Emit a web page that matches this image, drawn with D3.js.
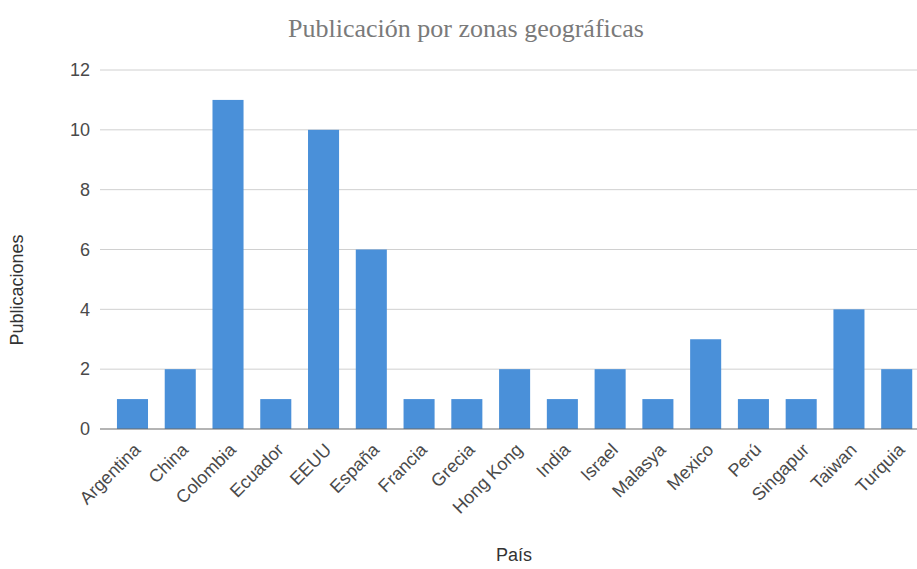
<!DOCTYPE html>
<html>
<head>
<meta charset="utf-8">
<script src="https://cdn.jsdelivr.net/npm/d3@7"></script>
<style>
  body { margin: 0; background: #fff; }
  svg { display: block; }
</style>
</head>
<body>
<div id="chart"></div>
<script>
const paises = ["Argentina", "China", "Colombia", "Ecuador", "EEUU", "España", "Francia", "Grecia",
  "Hong Kong", "India", "Israel", "Malasya", "Mexico", "Perú", "Singapur", "Taiwan", "Turquia"];
const publicaciones = [1, 2, 11, 1, 10, 6, 1, 1, 2, 1, 2, 1, 3, 1, 1, 4, 2];
const yTicks = [0, 2, 4, 6, 8, 10, 12];

const width = 917, height = 569;
const data = paises.map((p, i) => ({pais: p, valor: publicaciones[i]}));

const svg = d3.select("#chart").append("svg")
  .attr("width", width).attr("height", height);

const x = d3.scaleBand()
  .domain(paises)
  .range([108.6, 920.6])
  .paddingInner(0.35)
  .paddingOuter(0.175);

const y = d3.scaleLinear()
  .domain([0, 12])
  .range([429, 70]);

// grid
svg.append("g")
  .selectAll("line")
  .data(yTicks.filter(d => d > 0))
  .join("line")
    .attr("x1", 100).attr("x2", width)
    .attr("y1", d => y(d)).attr("y2", d => y(d))
    .attr("stroke", "#d0d0d0").attr("stroke-width", 1);

// y labels
svg.append("g")
  .selectAll("text")
  .data(yTicks)
  .join("text")
    .attr("x", 90)
    .attr("y", d => y(d))
    .attr("dy", "0.35em")
    .attr("text-anchor", "end")
    .attr("font-family", "Liberation Sans, Arial, sans-serif")
    .attr("font-size", 18)
    .attr("fill", "#4a4a4a")
    .text(d => d);

// bars
svg.append("g")
    .attr("fill", "#4a90d9")
  .selectAll("rect")
  .data(data)
  .join("rect")
    .attr("x", d => x(d.pais))
    .attr("width", x.bandwidth())
    .attr("y", d => y(d.valor))
    .attr("height", d => y(0) - y(d.valor));

// baseline
svg.append("line")
  .attr("x1", 100).attr("x2", width)
  .attr("y1", y(0)).attr("y2", y(0))
  .attr("stroke", "#6b6b6b").attr("stroke-width", 1.2);

// x labels
svg.append("g")
  .selectAll("text")
  .data(paises)
  .join("text")
    .attr("transform", d => `translate(${x(d) + x.bandwidth() / 2 + 9},451) rotate(-45)`)
    .attr("text-anchor", "end")
    .attr("font-family", "Liberation Sans, Arial, sans-serif")
    .attr("font-size", 18)
    .attr("fill", "#4a4a4a")
    .text(d => d);

// titles
svg.append("text")
  .attr("x", 466).attr("y", 37)
  .attr("text-anchor", "middle")
  .attr("font-family", "Liberation Serif, Times New Roman, serif")
  .attr("font-size", 26)
  .attr("fill", "#7a7a7a")
  .text("Publicación por zonas geográficas");

svg.append("text")
  .attr("transform", "translate(23,290) rotate(-90)")
  .attr("text-anchor", "middle")
  .attr("font-family", "Liberation Sans, Arial, sans-serif")
  .attr("font-size", 18)
  .attr("fill", "#333")
  .text("Publicaciones");

svg.append("text")
  .attr("x", 514).attr("y", 561)
  .attr("text-anchor", "middle")
  .attr("font-family", "Liberation Sans, Arial, sans-serif")
  .attr("font-size", 18)
  .attr("fill", "#333")
  .text("País");
</script>
</body>
</html>
